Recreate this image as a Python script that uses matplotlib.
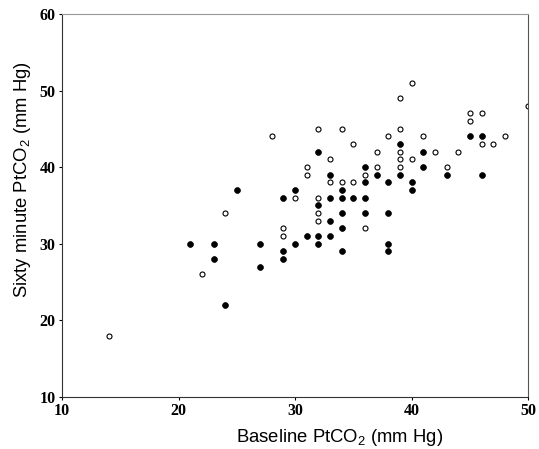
import matplotlib
matplotlib.use('Agg')
import matplotlib.pyplot as plt

# baseline PtCO2 / sixty minute PtCO2, filled markers
filled_x = [25, 21, 23, 23, 24, 32, 33, 30, 29, 33, 32, 33, 31, 32, 33, 27, 30, 32, 29, 29, 27,
            39, 36, 37, 39, 36, 38, 40, 34, 40, 34, 35, 36, 34, 36, 38, 34, 38, 34, 38,
            45, 46, 41, 41, 43, 46]
filled_y = [37, 30, 30, 28, 22, 42, 39, 37, 36, 36, 35, 33, 31, 31, 31, 30, 30, 30, 29, 28, 27,
            43, 40, 39, 39, 38, 38, 38, 37, 37, 36, 36, 36, 34, 34, 34, 32, 30, 29, 29,
            44, 44, 42, 40, 39, 39]

# open markers
open_x = [14, 24, 22, 32, 34, 28, 33, 31, 31, 33, 30, 32, 32, 32, 29, 29,
          39, 38, 35, 37, 39, 39, 40, 37, 39, 36, 34, 35, 36, 40, 39,
          50, 45, 46, 45, 41, 48, 46, 47, 42, 44, 43]
open_y = [18, 34, 26, 45, 45, 44, 41, 40, 39, 38, 36, 36, 34, 33, 32, 31,
          45, 44, 43, 42, 42, 41, 41, 40, 40, 39, 38, 38, 32, 51, 49,
          48, 47, 47, 46, 44, 44, 43, 43, 42, 42, 40]

plt.rcParams['mathtext.fontset'] = 'custom'
plt.rcParams['mathtext.rm'] = 'Liberation Sans'
plt.rcParams['mathtext.it'] = 'Liberation Sans'

fig = plt.figure(figsize=(5.39, 4.49), dpi=100)
ax = fig.add_axes([0.115, 0.116, 0.865, 0.853])

ax.plot(open_x, open_y, 'o', ms=3.6, mfc='white', mec='black', mew=0.8, ls='none')
ax.plot(filled_x, filled_y, 'o', ms=4.2, mfc='black', mec='black', mew=0.5, ls='none')

ax.set_xlim(10, 50)
ax.set_ylim(10, 60)
ax.set_xticks([10, 20, 30, 40, 50])
ax.set_yticks([10, 20, 30, 40, 50, 60])

for lab in ax.get_xticklabels() + ax.get_yticklabels():
	lab.set_family('Liberation Serif')
	lab.set_fontweight('bold')
	lab.set_fontsize(11.5)
ax.tick_params(length=2.5, width=0.8, pad=2)

ax.spines['left'].set_color('#333333')
ax.spines['bottom'].set_color('#333333')
ax.spines['top'].set_color('#999999')
ax.spines['right'].set_color('#555555')

# axis titles placed as in the original (x title sits right of centre)
fig.text(340/539, 1 - 437/449, 'Baseline PtCO$_2$ (mm Hg)', family='Liberation Sans',
         fontsize=13.3, ha='center', va='center')
fig.text(23/539, 1 - 180/449, 'Sixty minute PtCO$_2$ (mm Hg)', family='Liberation Sans',
         fontsize=13.3, ha='center', va='center', rotation=90)

fig.savefig('out.png', dpi=100)
